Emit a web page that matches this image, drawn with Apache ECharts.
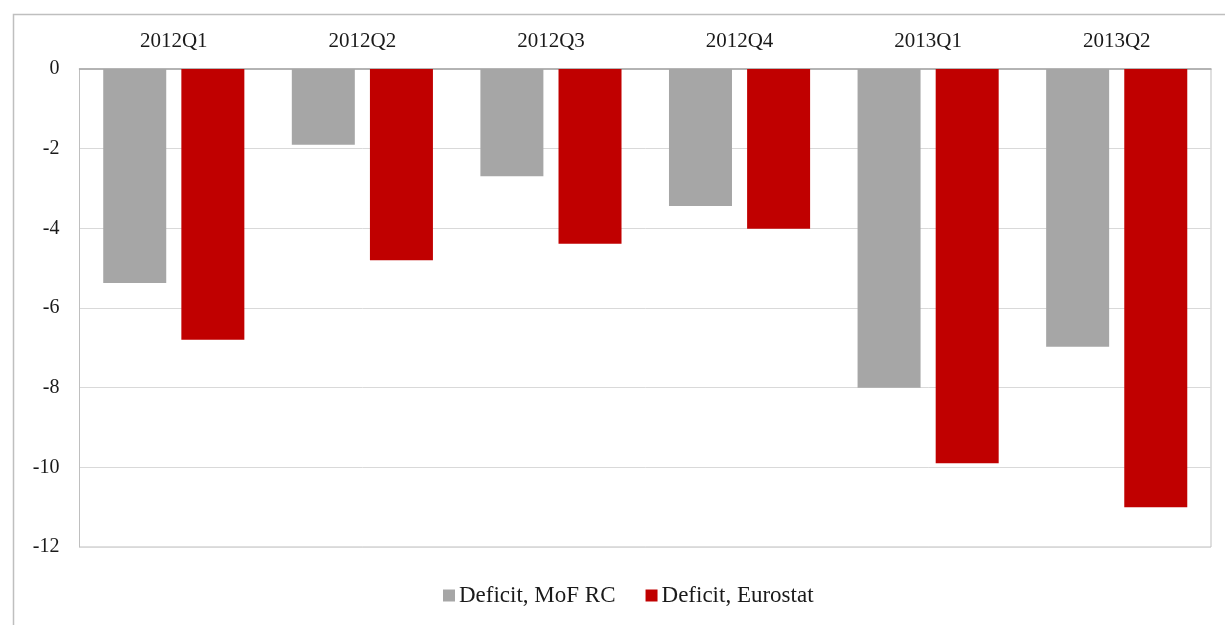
<!DOCTYPE html>
<html>
<head>
<meta charset="utf-8">
<script src="https://cdn.jsdelivr.net/npm/echarts@6/dist/echarts.min.js"></script>
<style>html,body{margin:0;padding:0;background:#fff;}#c{width:1225px;height:625px;}</style>
</head>
<body>
<div id="c"></div>
<script>
const categories = ['2012Q1', '2012Q2', '2012Q3', '2012Q4', '2013Q1', '2013Q2'];
const mofRC = [-5.37, -1.9, -2.69, -3.44, -8.0, -6.97];
const eurostat = [-6.8, -4.8, -4.39, -4.01, -9.9, -11.0];
const seriesNames = ['Deficit, MoF RC', 'Deficit, Eurostat'];

const font = 'Liberation Serif';
const chart = echarts.init(document.getElementById('c'));
chart.setOption({
  animation: false,
  backgroundColor: '#fff',
  graphic: [{
    type: 'rect', left: 11, top: 12, z: -1,
    shape: { width: 1260, height: 700 },
    style: { fill: 'none', stroke: '#bfbfbf', lineWidth: 1.5 }
  }],
  grid: { left: 79.5, right: 14, top: 69, bottom: 78, show: true, borderColor: '#bfbfbf', borderWidth: 1 },
  legend: {
    bottom: 13, left: 438,
    itemWidth: 12, itemHeight: 12, itemGap: 30,
    icon: 'rect',
    textStyle: { fontFamily: font, fontSize: 23, color: '#1a1a1a', padding: [0, 0, 0, -1] },
    data: seriesNames
  },
  xAxis: {
    type: 'category', position: 'top', data: categories,
    axisLine: { show: true, lineStyle: { color: '#a6a6a6', width: 1.5 } },
    axisTick: { show: false },
    axisLabel: { fontFamily: font, fontSize: 21, color: '#1a1a1a', margin: 17 }
  },
  yAxis: {
    type: 'value', min: -12, max: 0, interval: 2,
    axisLine: { show: true, lineStyle: { color: '#bfbfbf' } },
    axisTick: { show: false },
    splitLine: { lineStyle: { color: '#d9d9d9', width: 1 } },
    axisLabel: { fontFamily: font, fontSize: 20, color: '#1a1a1a', margin: 20 }
  },
  series: [
    { name: seriesNames[0], type: 'bar', data: mofRC, barWidth: 63, barGap: '24%', itemStyle: { color: '#a6a6a6' } },
    { name: seriesNames[1], type: 'bar', data: eurostat, barWidth: 63, itemStyle: { color: '#c00000' } }
  ]
});
</script>
</body>
</html>
